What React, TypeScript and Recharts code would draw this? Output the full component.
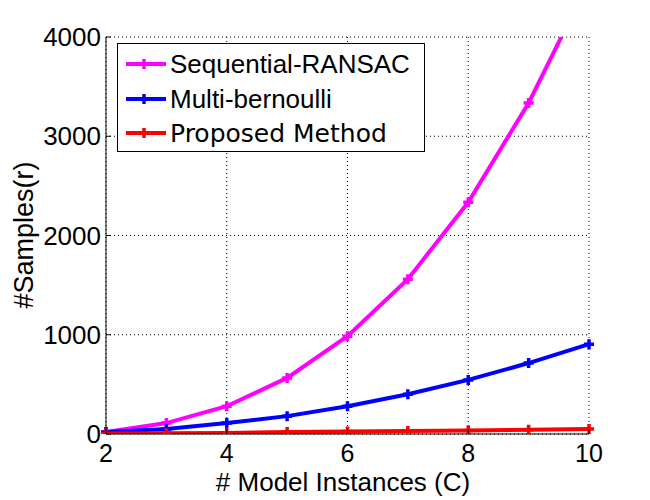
import { LineChart, Line, XAxis, YAxis, CartesianGrid, Legend } from 'recharts';

const instances = [2, 3, 4, 5, 6, 7, 8, 9, 10];
const seqRansac = [20, 110, 280, 565, 985, 1560, 2335, 3335, 4560];
const multiBernoulli = [20, 50, 110, 180, 280, 400, 545, 715, 905];
const proposed = [5, 8, 10, 20, 25, 30, 36, 42, 50];
const seriesNames = ['Sequential-RANSAC', 'Multi-bernoulli', 'Proposed Method'];
const xTicks = [2, 4, 6, 8, 10];
const yTicks = [0, 1000, 2000, 3000, 4000];

const data = instances.map((c, i) => ({ c, seq: seqRansac[i], multi: multiBernoulli[i], prop: proposed[i] }));

const FONT = '"Liberation Sans", Arial, sans-serif';

const PlusDot = (p: any) => {
  const { cx, cy, stroke } = p;
  if (cx == null || cy == null) return null;
  return <path d={`M${cx - 5},${cy}H${cx + 5}M${cx},${cy - 5}V${cy + 5}`} stroke={stroke} strokeWidth={3.5} fill="none" />;
};

const XTick = ({ x, y, payload }: any) => (
  <g>
    <line x1={x} x2={x} y1={434} y2={429} stroke="#000" />
    <text x={x} y={y + 26} textAnchor="middle" fontFamily={FONT} fontSize={25} fill="#000">{payload.value}</text>
  </g>
);

const YTick = ({ x, y, payload }: any) => (
  <g>
    <line x1={106} x2={111} y1={y} y2={y} stroke="#000" />
    <text x={x - 5} y={y + 9} textAnchor="end" fontFamily={FONT} fontSize={26} fill="#000">{payload.value}</text>
  </g>
);

const YLabel = () => (
  <text x={24} y={235} transform="rotate(-90 24 235)" textAnchor="middle" dominantBaseline="central" fontFamily={FONT} fontSize={27} fill="#000">#Samples(r)</text>
);

const XLabel = () => (
  <text x={343} y={491} textAnchor="middle" fontFamily={FONT} fontSize={26} fill="#000"># Model Instances (C)</text>
);

const renderLegend = ({ payload }: any) => {
  const items = seriesNames.map(n => (payload || []).find((e: any) => e.value === n)).filter(Boolean);
  return (
    <div style={{ width: 306, height: 107, border: '1px solid #000', background: '#fff', position: 'relative' }}>
      {items.map((e: any, i: number) => (
        <div key={e.value} style={{ position: 'absolute', left: 0, top: [20, 55, 89][i] - 17, height: 34, display: 'flex', alignItems: 'center' }}>
          <svg width={56} height={34}>
            <line x1={8} x2={48} y1={17} y2={17} stroke={e.color} strokeWidth={4} />
            <path d="M21,17H31M26,12V22" stroke={e.color} strokeWidth={3.5} />
          </svg>
          <span style={{
            fontFamily: e.value === 'Proposed Method' ? '"DejaVu Sans", sans-serif' : FONT,
            fontSize: e.value === 'Proposed Method' ? 25 : 26,
            color: '#000', whiteSpace: 'nowrap', marginLeft: -4,
          }}>{e.value}</span>
        </div>
      ))}
    </div>
  );
};

export default function App() {
  return (
    <div style={{ position: 'absolute', left: 0, top: 0, width: 650, height: 500, background: '#fff' }}>
      <LineChart width={650} height={500} data={data} margin={{ top: 37, right: 61, bottom: 0, left: 0 }}>
        <CartesianGrid stroke="#000" strokeDasharray="1 3" />
        <XAxis dataKey="c" type="number" domain={[2, 10]} ticks={xTicks} height={66}
          axisLine={{ stroke: '#000' }} tickLine={false} tickSize={0} tick={<XTick />} label={<XLabel />} />
        <YAxis type="number" domain={[0, 4000]} ticks={yTicks} allowDataOverflow width={106}
          axisLine={{ stroke: '#000' }} tickLine={false} tickSize={0} tickMargin={0} tick={<YTick />} label={<YLabel />} />
        <Legend layout="vertical" align="center" verticalAlign="middle" content={renderLegend}
          wrapperStyle={{ left: 117, top: 43, width: 308, height: 109 }} />
        <Line dataKey="seq" name={seriesNames[0]} stroke="#ff00ff" strokeWidth={4} dot={<PlusDot />} isAnimationActive={false} />
        <Line dataKey="multi" name={seriesNames[1]} stroke="#0000ff" strokeWidth={4} dot={<PlusDot />} isAnimationActive={false} />
        <Line dataKey="prop" name={seriesNames[2]} stroke="#ff0000" strokeWidth={4} dot={<PlusDot />} isAnimationActive={false} />
      </LineChart>
    </div>
  );
}
